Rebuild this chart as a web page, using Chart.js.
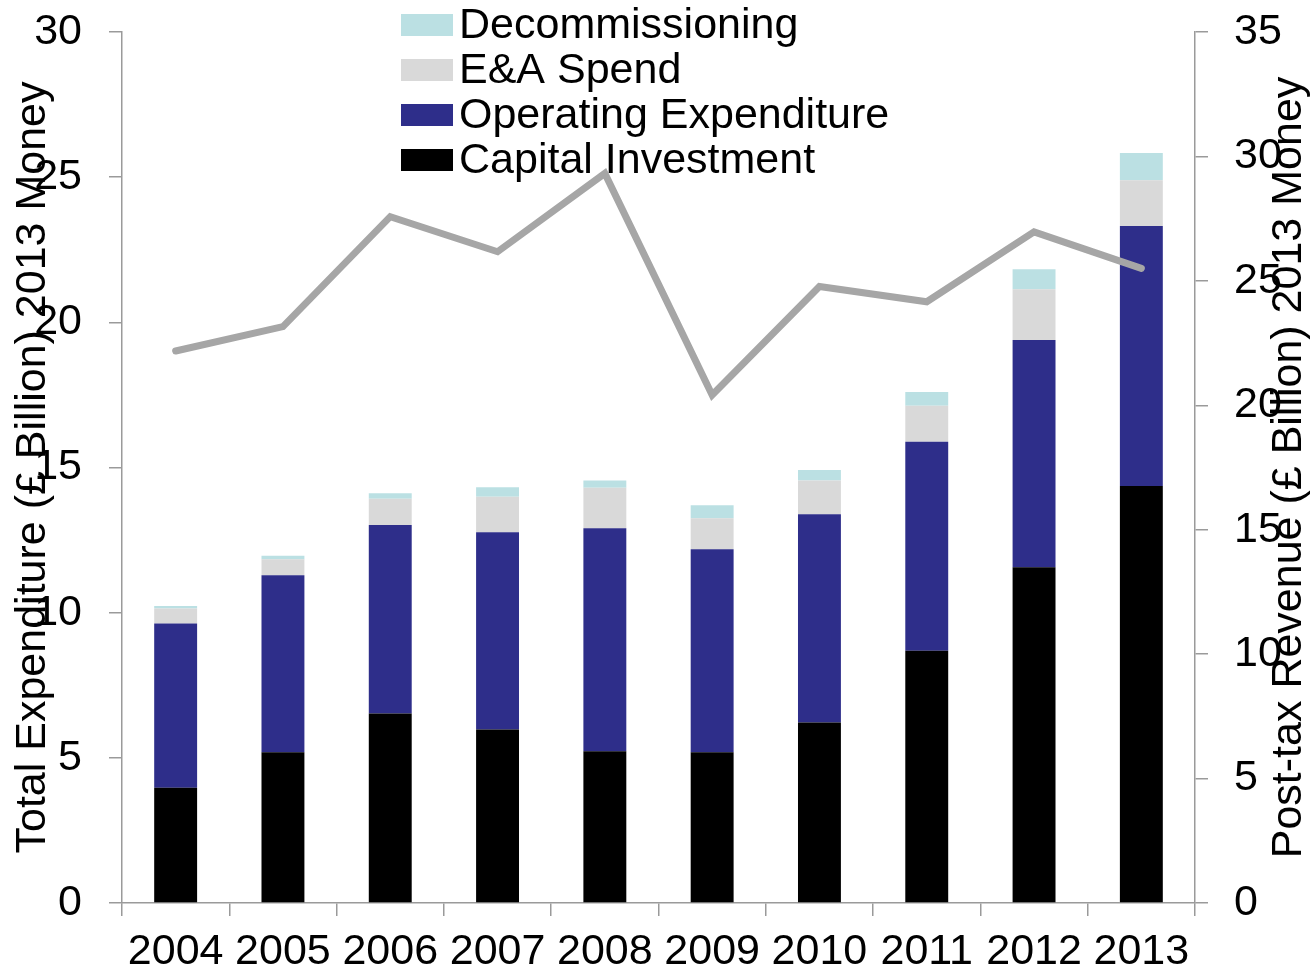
<!DOCTYPE html>
<html>
<head>
<meta charset="utf-8">
<title>Expenditure and Post-tax Revenue</title>
<script src="https://cdn.jsdelivr.net/npm/chart.js"></script>
<style>
  html, body { margin: 0; padding: 0; background: #fff; }
  #wrap { width: 1311px; height: 971px; }
</style>
</head>
<body>
<div id="wrap"><canvas id="chart" width="1311" height="971"></canvas></div>
<script>
// values (£ billion, 2013 money)
const years = ['2004', '2005', '2006', '2007', '2008', '2009', '2010', '2011', '2012', '2013'];
const capitalInvestment = [3.97, 5.19, 6.53, 5.98, 5.23, 5.19, 6.22, 8.69, 11.56, 14.36];
const operatingExpenditure = [5.66, 6.10, 6.49, 6.79, 7.68, 6.99, 7.17, 7.20, 7.83, 8.96];
const eaSpend = [0.51, 0.55, 0.90, 1.22, 1.39, 1.07, 1.16, 1.24, 1.75, 1.57];
const decommissioning = [0.09, 0.12, 0.19, 0.33, 0.25, 0.45, 0.36, 0.47, 0.69, 0.94];
const postTaxRevenue = [22.18, 23.16, 27.58, 26.17, 29.32, 20.41, 24.77, 24.16, 26.97, 25.50];

const FONT = "'Liberation Sans', Arial, sans-serif";
const SIZE = 43;
const AXIS = '#9a9a9a';

Chart.defaults.font.family = FONT;
Chart.defaults.font.size = SIZE;
Chart.defaults.color = '#000';

// vertical legend over the top of the plot, like the original
const sideLegend = {
  id: 'sideLegend',
  afterDraw(chart) {
    const ctx = chart.ctx;
    const bars = chart.data.datasets.filter(d => d.type === 'bar').slice().reverse();
    ctx.save();
    ctx.font = SIZE + 'px ' + FONT;
    ctx.textAlign = 'left';
    ctx.textBaseline = 'alphabetic';
    bars.forEach((ds, i) => {
      const cy = 25 + i * 45;
      ctx.fillStyle = ds.backgroundColor;
      ctx.fillRect(401, cy - 11, 52, 22);
      ctx.fillStyle = '#000';
      ctx.fillText(ds.label, 459, cy + 13);
    });
    ctx.restore();
  }
};

// right axis title reads bottom to top, which chart.js won't do on its own
const rightTitle = {
  id: 'rightTitle',
  afterDraw(chart) {
    const ctx = chart.ctx;
    const area = chart.chartArea;
    ctx.save();
    ctx.font = SIZE + 'px ' + FONT;
    ctx.fillStyle = '#000';
    ctx.textAlign = 'center';
    ctx.textBaseline = 'alphabetic';
    ctx.translate(1301, (area.top + area.bottom) / 2);
    ctx.rotate(-Math.PI / 2);
    ctx.fillText('Post-tax Revenue (£ Billion) 2013 Money', 0, 0);
    ctx.restore();
  }
};

// pin the plot box: fixed axis sizes, no extra label padding
function fixY(width) {
  return s => { s.width = width; s.paddingTop = 0; s.paddingBottom = 0; };
}

new Chart(document.getElementById('chart'), {
  data: {
    labels: years,
    datasets: [
      { type: 'line', label: 'Post-tax Revenue', data: postTaxRevenue, yAxisID: 'y1',
        borderColor: '#a6a6a6', borderWidth: 7, borderCapStyle: 'round',
        pointRadius: 0, tension: 0, fill: false, order: 0 },
      { type: 'bar', label: 'Capital Investment', data: capitalInvestment, backgroundColor: '#000000', order: 1 },
      { type: 'bar', label: 'Operating Expenditure', data: operatingExpenditure, backgroundColor: '#2e2e8a', order: 1 },
      { type: 'bar', label: 'E&A Spend', data: eaSpend, backgroundColor: '#d9d9d9', order: 1 },
      { type: 'bar', label: 'Decommissioning', data: decommissioning, backgroundColor: '#bbe0e3', order: 1 }
    ]
  },
  options: {
    responsive: false,
    animation: false,
    layout: { padding: { top: 32, left: 0, right: 0, bottom: 0 } },
    datasets: { bar: { categoryPercentage: 1, barPercentage: 0.4 } },
    plugins: { legend: { display: false }, tooltip: { enabled: false } },
    scales: {
      x: {
        stacked: true,
        grid: { display: true, drawOnChartArea: false, drawTicks: true, tickLength: 13, color: AXIS, lineWidth: 1.5, offset: true },
        border: { color: AXIS, width: 1.5 },
        ticks: { maxRotation: 0, autoSkip: false, padding: 10 },
        afterFit(s) { s.height = 68; s.paddingLeft = 0; s.paddingRight = 0; }
      },
      y: {
        stacked: true,
        position: 'left',
        min: 0, max: 30,
        grid: { drawOnChartArea: false, tickLength: 13, color: AXIS, lineWidth: 1.5 },
        border: { color: AXIS, width: 1.5 },
        ticks: { stepSize: 5, padding: 27 },
        title: { display: true, text: 'Total Expenditure (£ Billion) 2013 Money', padding: { top: 7, bottom: 0 } },
        afterFit: fixY(122)
      },
      y1: {
        position: 'right',
        min: 0, max: 35,
        grid: { drawOnChartArea: false, tickLength: 13, color: AXIS, lineWidth: 1.5 },
        border: { color: AXIS, width: 1.5 },
        ticks: { stepSize: 5, padding: 26 },
        afterFit: fixY(116)
      }
    }
  },
  plugins: [sideLegend, rightTitle]
});
</script>
</body>
</html>
